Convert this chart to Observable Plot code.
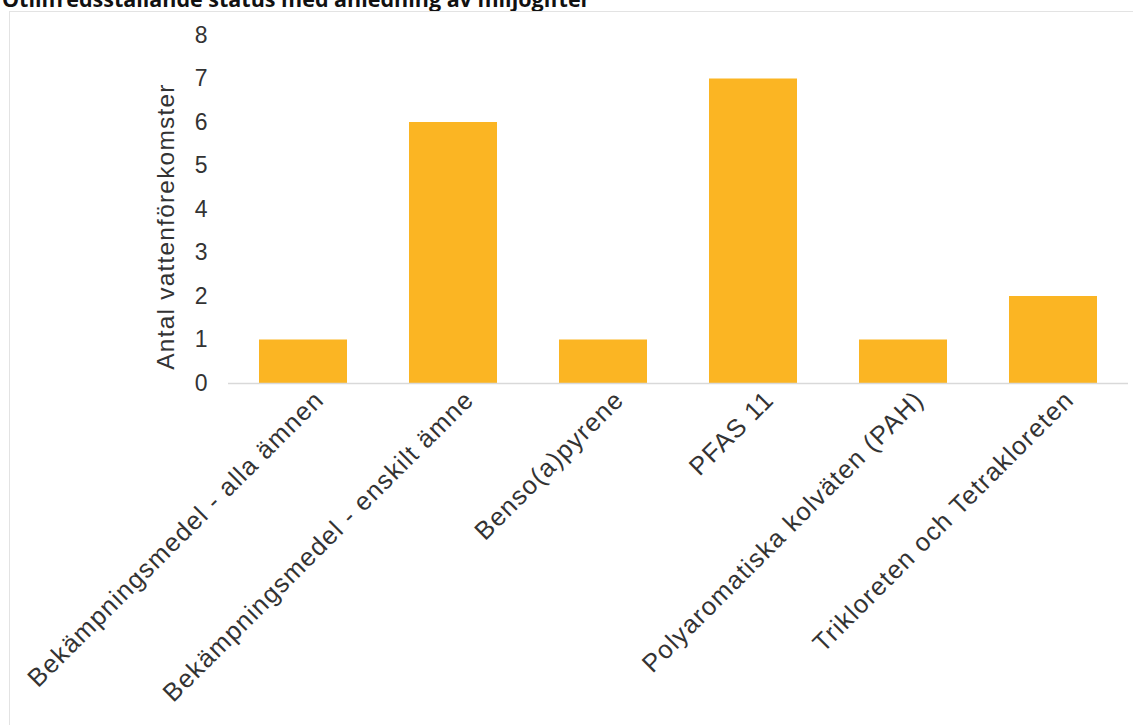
<!DOCTYPE html>
<html>
<head>
<meta charset="utf-8">
<script src="https://cdn.jsdelivr.net/npm/d3@7"></script>
<script src="https://cdn.jsdelivr.net/npm/@observablehq/plot@0.6"></script>
<style>
  html, body { margin: 0; padding: 0; background: #fff; overflow: hidden; }
  body { width: 1134px; height: 725px; position: relative; font-family: "Liberation Sans", Arial, sans-serif; }
  #title { position: absolute; left: 2px; top: -14px; font-family: "Open Sans", "Noto Sans", sans-serif; font-weight: 700; font-size: 21.5px; color: #111; white-space: nowrap; line-height: 26px; }
  #frame { position: absolute; left: 9px; top: 11px; width: 1124px; height: 730px; border: 1.5px solid #e3e3e3; border-right: none; border-bottom: none; box-sizing: border-box; }
  #chart { position: absolute; left: 0; top: 0; }
</style>
</head>
<body>
<div id="title">Otillfredsställande status med anledning av miljögifter</div>
<div id="frame"></div>
<div id="chart"></div>
<script>
const categories = [
  "Bekämpningsmedel - alla ämnen",
  "Bekämpningsmedel - enskilt ämne",
  "Benso(a)pyrene",
  "PFAS 11",
  "Polyaromatiska kolväten (PAH)",
  "Trikloreten och Tetrakloreten"
];
const values = [1, 6, 1, 7, 1, 2];
const yTicks = [0, 1, 2, 3, 4, 5, 6, 7, 8];
const yLabel = "Antal vattenförekomster";

const data = categories.map((c, i) => ({category: c, value: values[i]}));

const chart = Plot.plot({
  width: 1134,
  height: 725,
  marginLeft: 228,
  marginRight: 6,
  marginTop: 35,
  marginBottom: 342,
  style: {fontFamily: "'Liberation Sans', Arial, sans-serif", background: "transparent", color: "#333"},
  x: {domain: categories, padding: 0.413, paddingOuter: 0.206},
  y: {domain: [0, 8]},
  marks: [
    Plot.barY(data, {x: "category", y: "value", fill: "#fbb523"}),
    Plot.ruleY([0], {stroke: "#d9d9d9", strokeWidth: 1.5}),
    Plot.axisY({ticks: yTicks, tickSize: 0, tickPadding: 21, fontSize: 23, label: yLabel, labelAnchor: "center", labelArrow: "none", labelOffset: 72}),
    Plot.axisX({tickSize: 0, tickPadding: 12, tickRotate: -45, fontSize: 25.5, dx: 16, label: null})
  ]
});
d3.select(chart).selectAll('g[aria-label="x-axis tick label"] text').style("letter-spacing", "1.2px");
d3.select(chart).selectAll('g[aria-label="y-axis label"] text').style("font-size", "24.5px").style("letter-spacing", "1.2px");
d3.select(chart).selectAll('g[aria-label="y-axis label"]').attr("transform", function() {
  const t = this.getAttribute("transform") || "";
  return t + " translate(0,17)";
});
document.getElementById("chart").appendChild(chart);
</script>
</body>
</html>
